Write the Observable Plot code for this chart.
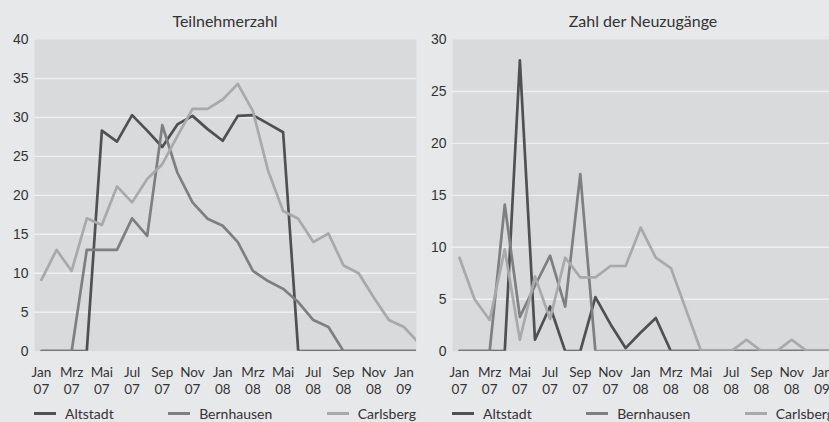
<!DOCTYPE html>
<html>
<head>
<meta charset="utf-8">
<script src="https://cdn.jsdelivr.net/npm/d3@7"></script>
<script src="https://cdn.jsdelivr.net/npm/@observablehq/plot@0.6"></script>
<style>
html, body { margin: 0; padding: 0; background: #e7e8ea; overflow: hidden; }
#wrap { display: flex; flex-wrap: nowrap; width: 840px; height: 422px; }
.panel { position: relative; width: 418px; height: 422px; flex: none; }
.panel svg { position: absolute; left: 0; top: 0; }
.title { position: absolute; top: 12px; left: 34px; width: 382px; text-align: center;
  font-family: Lato, sans-serif; font-size: 16px; line-height: 18px; color: #333; }
.legend { position: absolute; top: 404px; left: 34px; width: 382px; height: 18px;
  display: flex; justify-content: space-between; align-items: center;
  font-family: Lato, sans-serif; font-size: 14px; color: #333; }
.legend .item { display: flex; align-items: center; white-space: nowrap; }
.legend .sw { display: inline-block; width: 22px; height: 3px; margin-right: 9px; }
</style>
</head>
<body>
<div id="wrap"></div>
<script>
// Categories (months, Jan 07 .. Feb 09)
const monthNames = ["Jan","Feb","Mrz","Apr","Mai","Jun","Jul","Aug","Sep","Okt","Nov","Dez"];
const years = ["07","07","07","07","07","07","07","07","07","07","07","07",
               "08","08","08","08","08","08","08","08","08","08","08","08",
               "09","09"];
const tickIndex = [0,2,4,6,8,10,12,14,16,18,20,22,24];

const seriesNames = ["Altstadt","Bernhausen","Carlsberg"];
const lineColors = ["#505052","#7e7f81","#a8a9ab"];

const panelTitles = ["Teilnehmerzahl","Zahl der Neuzugänge"];

// Teilnehmerzahl
const teilnehmerAltstadt   = [0,0,0,0,28.3,26.9,30.3,28.3,26.2,29.1,30.2,28.5,27.0,30.2,30.3,29.2,28.1,0,0,0,0,0,0,0,0,0];
const teilnehmerBernhausen = [0,0,0,13.0,13.0,13.0,17.05,14.8,29.0,22.9,19.1,17.0,16.1,14.0,10.3,9.0,8.0,6.3,4.0,3.1,0,0,0,0,0,0];
const teilnehmerCarlsberg  = [9.15,13.0,10.3,17.05,16.2,21.15,19.1,22.1,24.0,27.6,31.1,31.1,32.3,34.3,30.8,23.2,18.0,17.0,14.0,15.1,11.0,10.0,6.9,4.0,3.1,1.0];

// Zahl der Neuzugänge
const neuAltstadt   = [0,0,0,0,28.0,1.1,4.3,0,0,5.2,2.6,0.3,1.8,3.2,0,0,0,0,0,0,0,0,0,0,0,0];
const neuBernhausen = [0,0,0,14.1,3.3,6.3,9.2,4.3,17.05,0,0,0,0,0,0,0,0,0,0,0,0,0,0,0,0,0];
const neuCarlsberg  = [9.0,5.0,3.0,9.8,1.1,7.2,3.1,9.0,7.1,7.1,8.2,8.2,11.9,9.0,8.0,4.0,0,0,0,1.1,0,0,1.1,0,0,0];

const yMaxima = [40, 30];

function makeChart(seriesValues, yMax) {
  const rows = [];
  seriesNames.forEach((name, s) => seriesValues[s].forEach((v, i) => rows.push({series: name, i, v})));
  return Plot.plot({
    width: 418,
    height: 400,
    marginTop: 39,
    marginBottom: 49.3,
    marginLeft: 34,
    marginRight: 2,
    style: {background: "transparent", color: "#333", overflow: "visible"},
    x: {domain: [-0.46, 24.83], label: null},
    y: {domain: [0, yMax], label: null},
    color: {domain: seriesNames, range: lineColors},
    marks: [
      Plot.frame({fill: "#d9dadc", stroke: "none"}),
      Plot.gridY({ticks: d3.range(5, yMax, 5), stroke: "#eeeff1", strokeOpacity: 1, strokeWidth: 1.4}),
      Plot.axisY({ticks: d3.range(0, yMax + 1, 5), tickSize: 0, tickPadding: 6, label: null,
        fontSize: 14, fontFamily: "Liberation Sans, Arial, sans-serif"}),
      Plot.axisX({ticks: tickIndex, tickSize: 0, tickPadding: 13, label: null,
        tickFormat: i => monthNames[i % 12] + "\n" + years[i],
        fontSize: 13.5, fontFamily: "Lato, sans-serif", lineHeight: 1.3}),
      Plot.line(rows, {x: "i", y: "v", stroke: "series", z: "series", strokeWidth: 2.7, clip: true})
    ]
  });
}

const wrap = document.getElementById("wrap");
const panelData = [
  [teilnehmerAltstadt, teilnehmerBernhausen, teilnehmerCarlsberg],
  [neuAltstadt, neuBernhausen, neuCarlsberg]
];
panelData.forEach((vals, p) => {
  const panel = document.createElement("div");
  panel.className = "panel";
  panel.appendChild(makeChart(vals, yMaxima[p]));
  const t = document.createElement("div");
  t.className = "title";
  t.textContent = panelTitles[p];
  panel.appendChild(t);
  const lg = document.createElement("div");
  lg.className = "legend";
  seriesNames.forEach((name, s) => {
    const it = document.createElement("span");
    it.className = "item";
    const sw = document.createElement("span");
    sw.className = "sw";
    sw.style.background = lineColors[s];
    it.appendChild(sw);
    it.appendChild(document.createTextNode(name));
    lg.appendChild(it);
  });
  panel.appendChild(lg);
  wrap.appendChild(panel);
});
</script>
</body>
</html>
